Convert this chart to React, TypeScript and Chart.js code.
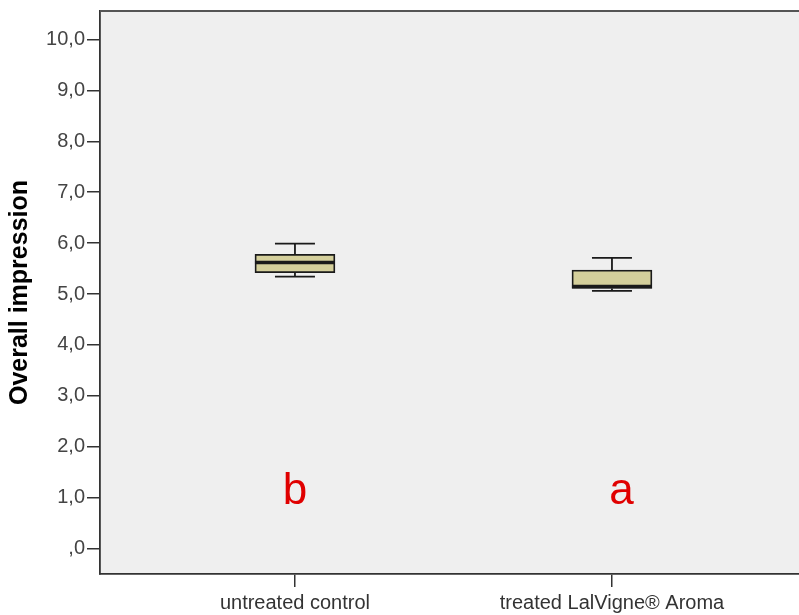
import React, { useEffect, useRef } from 'react';
import { Chart, registerables } from 'chart.js';

Chart.register(...registerables);

// ---- data ----
const categories = ['untreated control', 'treated LalVigne® Aroma'];
const categoryPositions = [1, 2];
const whiskerMin = [5.34, 5.06];
const quartile1 = [5.42, 5.11];
const medians = [5.62, 5.15];
const quartile3 = [5.78, 5.47];
const whiskerMax = [5.99, 5.71];
const letters = ['b', 'a'];
const letterX = [1.0, 2.03];
const letterY = [0.87, 0.87];
const yTickValues = [0, 1, 2, 3, 4, 5, 6, 7, 8, 9, 10];
const yTickLabels = [',0', '1,0', '2,0', '3,0', '4,0', '5,0', '6,0', '7,0', '8,0', '9,0', '10,0'];
const yTitle = 'Overall impression';

const FONT = "'Liberation Sans', Arial, sans-serif";

const boxPlugin = {
  id: 'boxExtras',
  beforeDraw(chart: any) {
    const { ctx, chartArea } = chart;
    ctx.save();
    ctx.fillStyle = '#efefef';
    ctx.fillRect(chartArea.left, chartArea.top, chartArea.right - chartArea.left, chartArea.bottom - chartArea.top);
    ctx.restore();
  },
  afterDatasetsDraw(chart: any) {
    const { ctx } = chart;
    const xs = chart.scales.x;
    const ys = chart.scales.y;
    const meta = chart.getDatasetMeta(0);
    ctx.save();
    ctx.strokeStyle = '#1a1a1a';
    ctx.lineCap = 'butt';
    meta.data.forEach((bar: any, i: number) => {
      const cx = xs.getPixelForValue(categoryPositions[i]);
      const w = bar.getProps(['width'], true).width;
      const capHalf = w / 4;
      const yMax = ys.getPixelForValue(whiskerMax[i]);
      const yQ3 = ys.getPixelForValue(quartile3[i]);
      const yQ1 = ys.getPixelForValue(quartile1[i]);
      const yMin = ys.getPixelForValue(whiskerMin[i]);
      const yMed = ys.getPixelForValue(medians[i]);
      ctx.lineWidth = 1.8;
      ctx.beginPath();
      ctx.moveTo(cx, yQ3);
      ctx.lineTo(cx, yMax);
      ctx.moveTo(cx - capHalf, yMax);
      ctx.lineTo(cx + capHalf, yMax);
      ctx.moveTo(cx, yQ1);
      ctx.lineTo(cx, yMin);
      ctx.moveTo(cx - capHalf, yMin);
      ctx.lineTo(cx + capHalf, yMin);
      ctx.stroke();
      ctx.lineWidth = 3.5;
      ctx.beginPath();
      ctx.moveTo(cx - w / 2, yMed);
      ctx.lineTo(cx + w / 2, yMed);
      ctx.stroke();
    });
    ctx.restore();
  },
  afterDraw(chart: any) {
    const { ctx, chartArea } = chart;
    const xs = chart.scales.x;
    const ys = chart.scales.y;
    ctx.save();
    ctx.strokeStyle = '#555555';
    ctx.lineWidth = 2;
    ctx.beginPath();
    ctx.moveTo(chartArea.left, chartArea.top);
    ctx.lineTo(chartArea.right, chartArea.top);
    ctx.stroke();
    ctx.fillStyle = '#e00000';
    ctx.font = `44px ${FONT}`;
    ctx.textAlign = 'center';
    ctx.textBaseline = 'alphabetic';
    letters.forEach((t, i) => {
      ctx.fillText(t, xs.getPixelForValue(letterX[i]), ys.getPixelForValue(letterY[i]));
    });
    ctx.restore();
  },
};

export default function App() {
  const ref = useRef<HTMLCanvasElement>(null);
  useEffect(() => {
    if (!ref.current) return;
    const chart = new Chart(ref.current, {
      type: 'bar',
      data: {
        datasets: [
          {
            data: categoryPositions.map((x, i) => ({ x, y: [quartile1[i], quartile3[i]] })) as any,
            backgroundColor: '#d4cf9b',
            borderColor: '#1a1a1a',
            borderWidth: 1.8,
            borderSkipped: false,
            barThickness: 80,
          },
        ],
      },
      options: {
        responsive: false,
        animation: false,
        events: [],
        layout: { padding: { top: 11, left: 0, right: 0, bottom: 0 } },
        plugins: { legend: { display: false }, tooltip: { enabled: false } },
        scales: {
          x: {
            type: 'linear',
            offset: false,
            min: 0.385,
            max: 2.59,
            afterBuildTicks: (axis: any) => {
              axis.ticks = categoryPositions.map((v) => ({ value: v }));
            },
            afterFit: (axis: any) => {
              axis.height = 41;
              axis.paddingLeft = 0;
              axis.paddingRight = 0;
            },
            ticks: {
              autoSkip: false,
              maxRotation: 0,
              padding: 4,
              color: '#333333',
              font: { family: FONT, size: 20 },
              callback: (_v: any, i: number) => categories[i],
            },
            grid: { offset: false, drawOnChartArea: false, drawTicks: true, tickLength: 13, color: '#333333', lineWidth: 1.5 },
            border: { display: true, color: '#333333', width: 1.8 },
          },
          y: {
            type: 'linear',
            min: -0.5,
            max: 10.56,
            afterBuildTicks: (axis: any) => {
              axis.ticks = yTickValues.map((v) => ({ value: v }));
            },
            afterFit: (axis: any) => {
              axis.width = 100;
              axis.paddingTop = 0;
              axis.paddingBottom = 0;
            },
            ticks: {
              padding: 2,
              color: '#444444',
              font: { family: FONT, size: 20 },
              callback: (_v: any, i: number) => yTickLabels[i],
            },
            grid: { drawOnChartArea: false, drawTicks: true, tickLength: 13, color: '#333333', lineWidth: 1.5 },
            border: { display: true, color: '#333333', width: 1.8 },
            title: {
              display: true,
              text: yTitle,
              color: '#000000',
              font: { family: FONT, size: 25, weight: 'bold' },
              padding: { top: 5, bottom: 0 },
            },
          },
        },
      },
      plugins: [boxPlugin],
    } as any);
    return () => chart.destroy();
  }, []);
  return (
    <div style={{ position: 'absolute', left: 0, top: 0, width: 799, height: 615, background: '#ffffff' }}>
      <canvas ref={ref} width={799} height={615} style={{ display: 'block' }} />
    </div>
  );
}
